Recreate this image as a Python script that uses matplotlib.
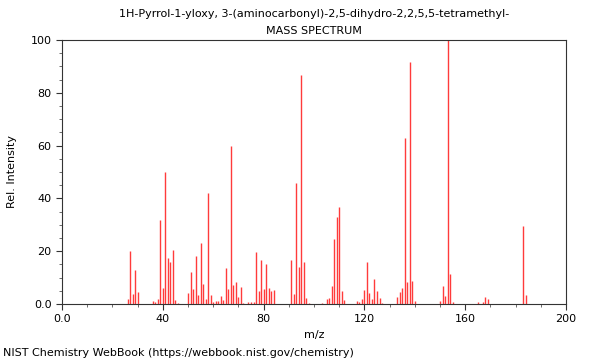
import matplotlib
matplotlib.use("Agg")
import matplotlib.pyplot as plt
from matplotlib.ticker import MultipleLocator, FuncFormatter

mz = [26, 27, 28, 29, 30, 36, 37, 38, 39, 40, 41, 42, 43, 44, 45, 46,
      50, 51, 52, 53, 54, 55, 56, 57, 58, 59, 60, 61, 62, 63, 64, 65,
      66, 67, 68, 69, 70, 71, 72, 74, 75, 76, 77, 78, 79, 80, 81, 82,
      83, 84, 91, 92, 93, 94, 95, 96, 97, 98, 103, 105, 106, 107, 108,
      109, 110, 111, 112, 117, 118, 119, 120, 121, 122, 123, 124, 125,
      126, 127, 133, 134, 135, 136, 137, 138, 139, 140, 150, 151, 152,
      153, 154, 155, 165, 167, 168, 169, 183, 184]
intensidade = [1.9, 20.0, 3.8, 12.9, 4.4, 1.1, 0.7, 2.0, 31.7, 6.2, 50.1,
               17.4, 15.8, 20.5, 1.5, 0.5,
               4.0, 12.2, 5.7, 18.3, 3.5, 23.0, 7.6, 2.0, 42.0, 3.3, 0.7,
               1.0, 1.3, 2.9, 1.5, 13.5,
               5.7, 59.8, 7.2, 8.2, 2.6, 6.4, 0.5, 0.6, 0.6, 0.6, 19.8,
               4.9, 16.7, 5.7, 15.2, 6.1,
               4.9, 5.3, 16.7, 3.8, 45.7, 14.1, 86.7, 15.9, 2.3, 0.5, 0.5,
               2.0, 2.3, 7.0, 24.5,
               33.0, 36.7, 5.0, 1.5, 1.0, 0.7, 2.0, 5.2, 15.9, 4.2, 2.0,
               9.5, 4.9,
               2.3, 0.5, 2.5, 4.5, 5.9, 62.8, 8.2, 91.8, 8.7, 1.2, 1.2,
               6.8, 3.2,
               100.0, 11.4, 0.8, 0.7, 0.7, 2.8, 2.0, 29.5, 3.4]

titulo = "1H-Pyrrol-1-yloxy, 3-(aminocarbonyl)-2,5-dihydro-2,2,5,5-tetramethyl-\nMASS SPECTRUM"
rodape = "NIST Chemistry WebBook (https://webbook.nist.gov/chemistry)"

fig = plt.figure(figsize=(6, 3.6), dpi=100)
ax = fig.add_axes([62 / 600, 56 / 360, 504 / 600, 264 / 360])

ax.vlines(mz, 0, intensidade, colors="#ff3b3b", linewidth=1.0)

ax.set_xlim(0, 200)
ax.set_ylim(0, 100)
ax.xaxis.set_major_locator(MultipleLocator(40))
ax.xaxis.set_minor_locator(MultipleLocator(10))
ax.yaxis.set_major_locator(MultipleLocator(20))
ax.yaxis.set_minor_locator(MultipleLocator(5))

fmt = FuncFormatter(lambda v, pos: "0.0" if v == 0 else "%d" % v)
ax.xaxis.set_major_formatter(fmt)
ax.yaxis.set_major_formatter(fmt)
ax.tick_params(labelsize=8, length=4, width=0.8, color="#333333")
ax.tick_params(which="minor", length=2, width=0.6, color="#555555")
for s in ax.spines.values():
    s.set_color("#333333")
    s.set_linewidth(0.8)

ax.set_xlabel("m/z", fontsize=8)
ax.set_ylabel("Rel. Intensity", fontsize=8)
ax.yaxis.set_label_coords(-45 / 504, 0.5)
ax.set_title(titulo, fontsize=8, linespacing=1.9, pad=4)
fig.text(3 / 600, 1 - 353 / 360, rodape, fontsize=8, va="center", ha="left")

fig.savefig("out.png", dpi=100)
